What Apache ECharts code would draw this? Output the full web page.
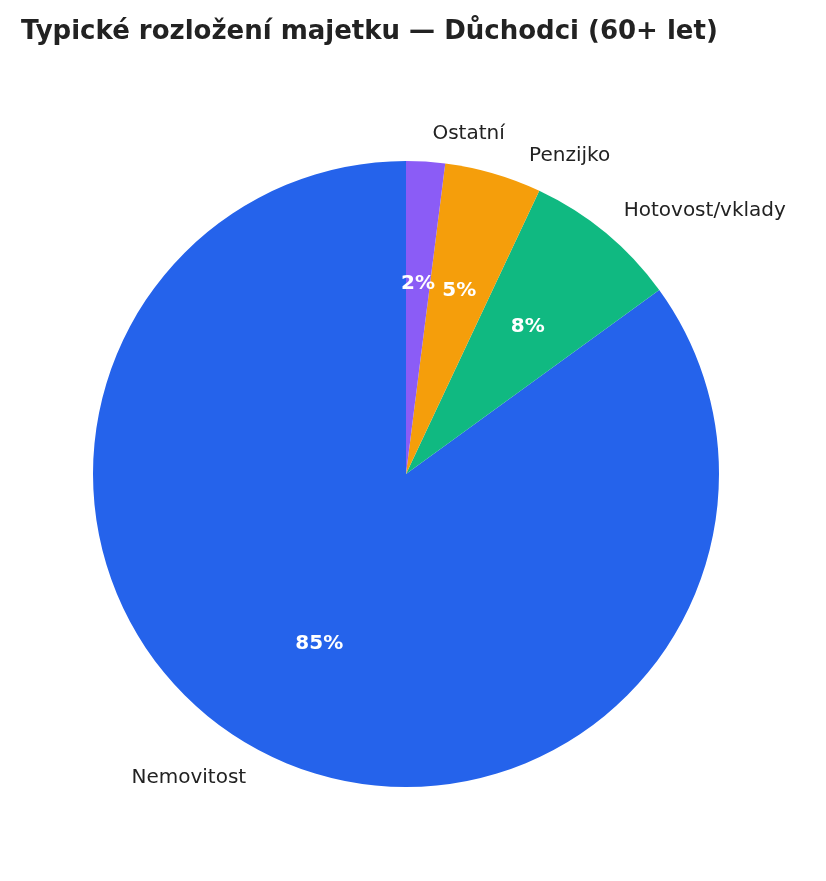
<!DOCTYPE html>
<html><head><meta charset="utf-8">
<script src="https://cdn.jsdelivr.net/npm/echarts@6/dist/echarts.min.js"></script>
<style>html,body{margin:0;padding:0;background:#fff}#c{width:826px;height:881px}</style>
</head><body><div id="c"></div>
<script>
const categories = ['Nemovitost','Hotovost/vklady','Penzijko','Ostatní'];
const values = [85, 8, 5, 2];
const colors = ['#2563eb','#10b981','#f59e0b','#8b5cf6'];
const data = categories.map((n,i)=>({name:n,value:values[i],itemStyle:{color:colors[i]}}));
const chart = echarts.init(document.getElementById('c'));
chart.setOption({
  animation:false,
  title:{text:'Typické rozložení majetku — Důchodci (60+ let)',left:16,top:14,
    textStyle:{fontFamily:'DejaVu Sans',fontSize:26,fontWeight:'bold',color:'#222'}},
  series:[
    {type:'pie',center:[406,474],radius:[0,313],startAngle:90,clockwise:false,
     data:data,silent:true,
     label:{show:true,position:'outside',formatter:'{b}',fontFamily:'DejaVu Sans',fontSize:20,color:'#222'},
     labelLine:{show:false,length:28,length2:0}},
    {type:'pie',center:[406,474],radius:[0,376],startAngle:90,clockwise:false,silent:true,
     data:data.map(d=>({name:d.name,value:d.value,itemStyle:{color:'rgba(0,0,0,0)'}})),
     label:{show:true,position:'inside',formatter:p=>Math.round(p.percent)+'%',
       fontFamily:'DejaVu Sans',fontSize:20,fontWeight:'bold',color:'#fff'},
     labelLine:{show:false}}
  ]
});
</script></body></html>
